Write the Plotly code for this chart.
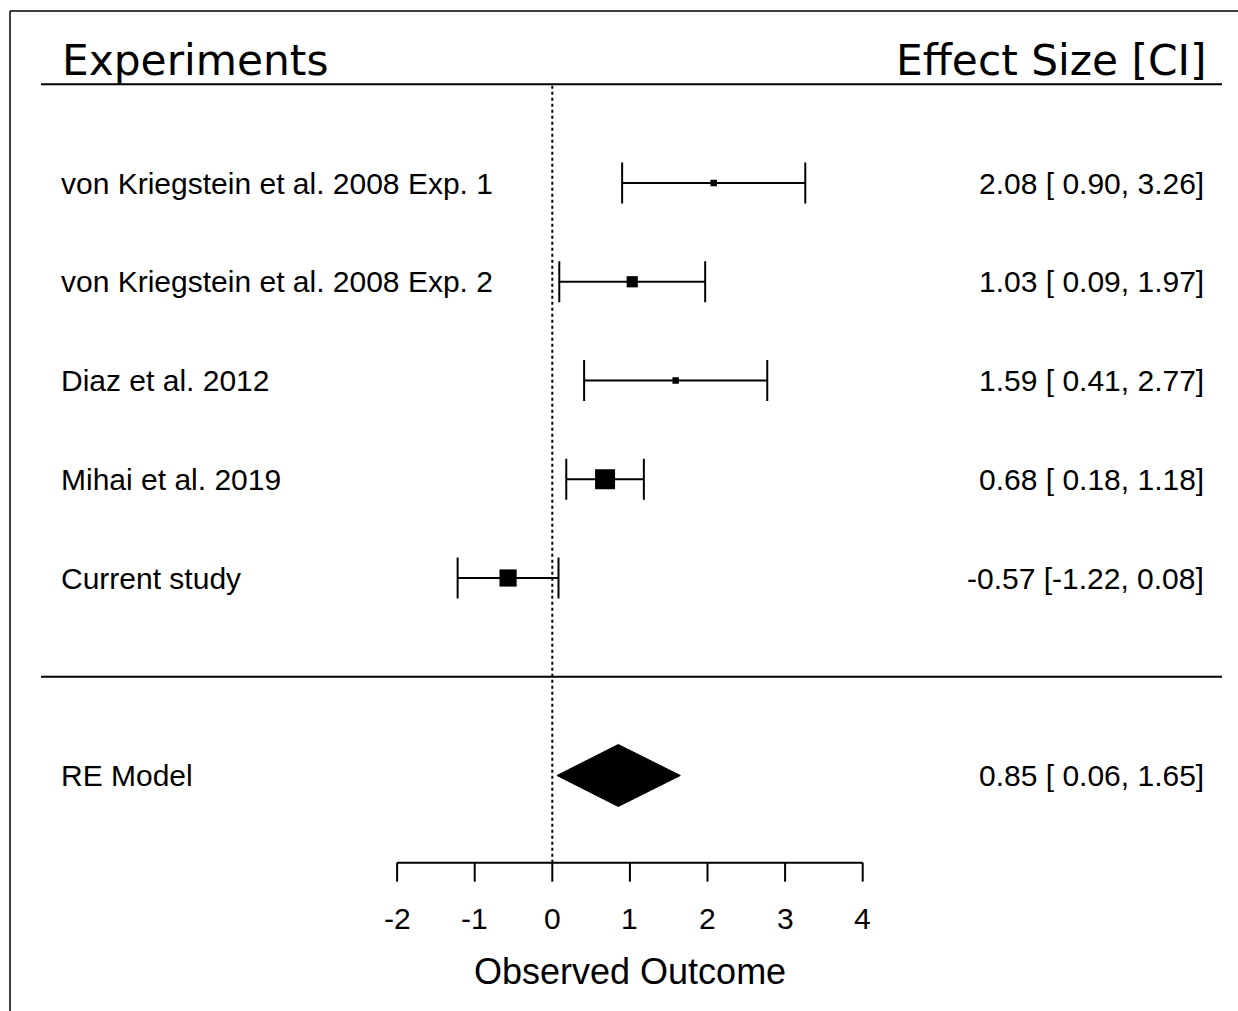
import plotly.graph_objects as go

# ---------------- data ----------------
studies = [
    "von Kriegstein et al. 2008 Exp. 1",
    "von Kriegstein et al. 2008 Exp. 2",
    "Diaz et al. 2012",
    "Mihai et al. 2019",
    "Current study",
]
yi = [2.08, 1.03, 1.59, 0.68, -0.57]
ci_lb = [0.90, 0.09, 0.41, 0.18, -1.22]
ci_ub = [3.26, 1.97, 2.77, 1.18, 0.08]
weights = [16.3, 19.3, 16.3, 24.9, 23.1]  # RE model weights (%)

re_label = "RE Model"
re_est = 0.85
re_lb = 0.06
re_ub = 1.65

x_ticks = [-2, -1, 0, 1, 2, 3, 4]
header_left = "Experiments"
header_right = "Effect Size [CI]"
x_title = "Observed Outcome"

# ---------------- geometry ----------------
W, H = 1238, 1011
x0_px, ppu_x = 552.3, 77.6          # pixel of x=0, pixels per unit
row0_px, ppu_y = 183.0, 98.75       # pixel of top row (y=5), pixels per row
k = len(studies)
xr = [(0 - x0_px) / ppu_x, (W - x0_px) / ppu_x]
yr = [k - (H - row0_px) / ppu_y, k + row0_px / ppu_y]

xlim = [(41 - x0_px) / ppu_x, (1222 - x0_px) / ppu_x]
x_left_text = (59 - x0_px) / ppu_x
x_right_text = (1206 - x0_px) / ppu_x
y_header = k + 1
y_axis = k - (862.7 - row0_px) / ppu_y
tick_len = 19 / ppu_y
y_ticklab = k - (918 - row0_px) / ppu_y
y_title = k - (971.5 - row0_px) / ppu_y
cap = 20.5 / ppu_y
diam_h = 31 / ppu_y

rows = [k - i for i in range(k)]
y_re = -1

wmin, wmax = min(weights), max(weights)
msizes = [6.5 + (w - wmin) / (wmax - wmin) * 13.5 for w in weights]

fig = go.Figure()
LC = "black"

# CI lines and caps
for y, lb, ub in zip(rows, ci_lb, ci_ub):
    fig.add_trace(go.Scatter(x=[lb, ub], y=[y, y], mode="lines",
                             line=dict(color=LC, width=2), hoverinfo="skip"))
    for xv in (lb, ub):
        fig.add_trace(go.Scatter(x=[xv, xv], y=[y - cap, y + cap], mode="lines",
                                 line=dict(color=LC, width=2), hoverinfo="skip"))

# point estimates
fig.add_trace(go.Scatter(x=yi, y=rows, mode="markers",
                         marker=dict(symbol="square", size=msizes, color="black",
                                     opacity=1, line=dict(width=0)), hoverinfo="skip"))

# summary diamond
fig.add_trace(go.Scatter(x=[re_lb, re_est, re_ub, re_est, re_lb],
                         y=[y_re, y_re + diam_h, y_re, y_re - diam_h, y_re],
                         mode="lines", fill="toself", fillcolor="black",
                         line=dict(color="black", width=1), hoverinfo="skip"))

# reference line at 0
fig.add_trace(go.Scatter(x=[0, 0], y=[y_axis, y_header], mode="lines",
                         line=dict(color=LC, width=2, dash="3px,3px"), hoverinfo="skip"))

# horizontal separators
for yy in (y_header, 0):
    fig.add_trace(go.Scatter(x=xlim, y=[yy, yy], mode="lines",
                             line=dict(color=LC, width=1.8), hoverinfo="skip"))

# bottom axis
fig.add_trace(go.Scatter(x=[x_ticks[0], x_ticks[-1]], y=[y_axis, y_axis], mode="lines",
                         line=dict(color=LC, width=2), hoverinfo="skip"))
for t in x_ticks:
    fig.add_trace(go.Scatter(x=[t, t], y=[y_axis, y_axis - tick_len], mode="lines",
                             line=dict(color=LC, width=2), hoverinfo="skip"))
    fig.add_annotation(x=t, y=y_ticklab, text=f"{t}", showarrow=False,
                       xanchor="center", yanchor="middle",
                       font=dict(family="Liberation Sans", size=30, color="black"))
fig.add_annotation(x=(x_ticks[0] + x_ticks[-1]) / 2, y=y_title, text=x_title, showarrow=False,
                   xanchor="center", yanchor="middle",
                   font=dict(family="Liberation Sans", size=36, color="black"))

# text columns
def fmt(e, lb, ub):
    return f"{e:.2f} [{lb:5.2f}, {ub:.2f}]".replace("[ ", "[\u00a0")

lab_font = dict(family="Liberation Sans", size=30, color="black")
for y, s, e, lb, ub in zip(rows, studies, yi, ci_lb, ci_ub):
    fig.add_annotation(x=x_left_text, y=y, text=s, showarrow=False,
                       xanchor="left", yanchor="middle", font=lab_font)
    fig.add_annotation(x=x_right_text, y=y, text=fmt(e, lb, ub),
                       showarrow=False, xanchor="right", yanchor="middle", font=lab_font)
fig.add_annotation(x=x_left_text, y=y_re, text=re_label, showarrow=False,
                   xanchor="left", yanchor="middle", font=lab_font)
fig.add_annotation(x=x_right_text, y=y_re, text=fmt(re_est, re_lb, re_ub),
                   showarrow=False, xanchor="right", yanchor="middle", font=lab_font)

# headers
hdr_font = dict(family="DejaVu Sans", size=42.3, color="black")
y_hdr_txt = k - (60 - row0_px) / ppu_y
fig.add_annotation(x=(60 - x0_px) / ppu_x, y=y_hdr_txt, text=header_left, showarrow=False,
                   xanchor="left", yanchor="middle", font=hdr_font)
fig.add_annotation(x=(1208 - x0_px) / ppu_x, y=y_hdr_txt, text=header_right, showarrow=False,
                   xanchor="right", yanchor="middle", font=hdr_font)

# frame (left and top border)
fig.add_shape(type="line", xref="paper", yref="paper", x0=10 / W, x1=10 / W,
              y0=0, y1=1 - 11 / H, line=dict(color="black", width=1.5))
fig.add_shape(type="line", xref="paper", yref="paper", x0=10 / W, x1=1,
              y0=1 - 11 / H, y1=1 - 11 / H, line=dict(color="black", width=1.5))

fig.update_layout(
    width=W, height=H, margin=dict(l=0, r=0, t=0, b=0),
    paper_bgcolor="white", plot_bgcolor="white", showlegend=False,
    xaxis=dict(range=xr, visible=False, fixedrange=True),
    yaxis=dict(range=yr, visible=False, fixedrange=True),
)

fig.write_html("out.html")
